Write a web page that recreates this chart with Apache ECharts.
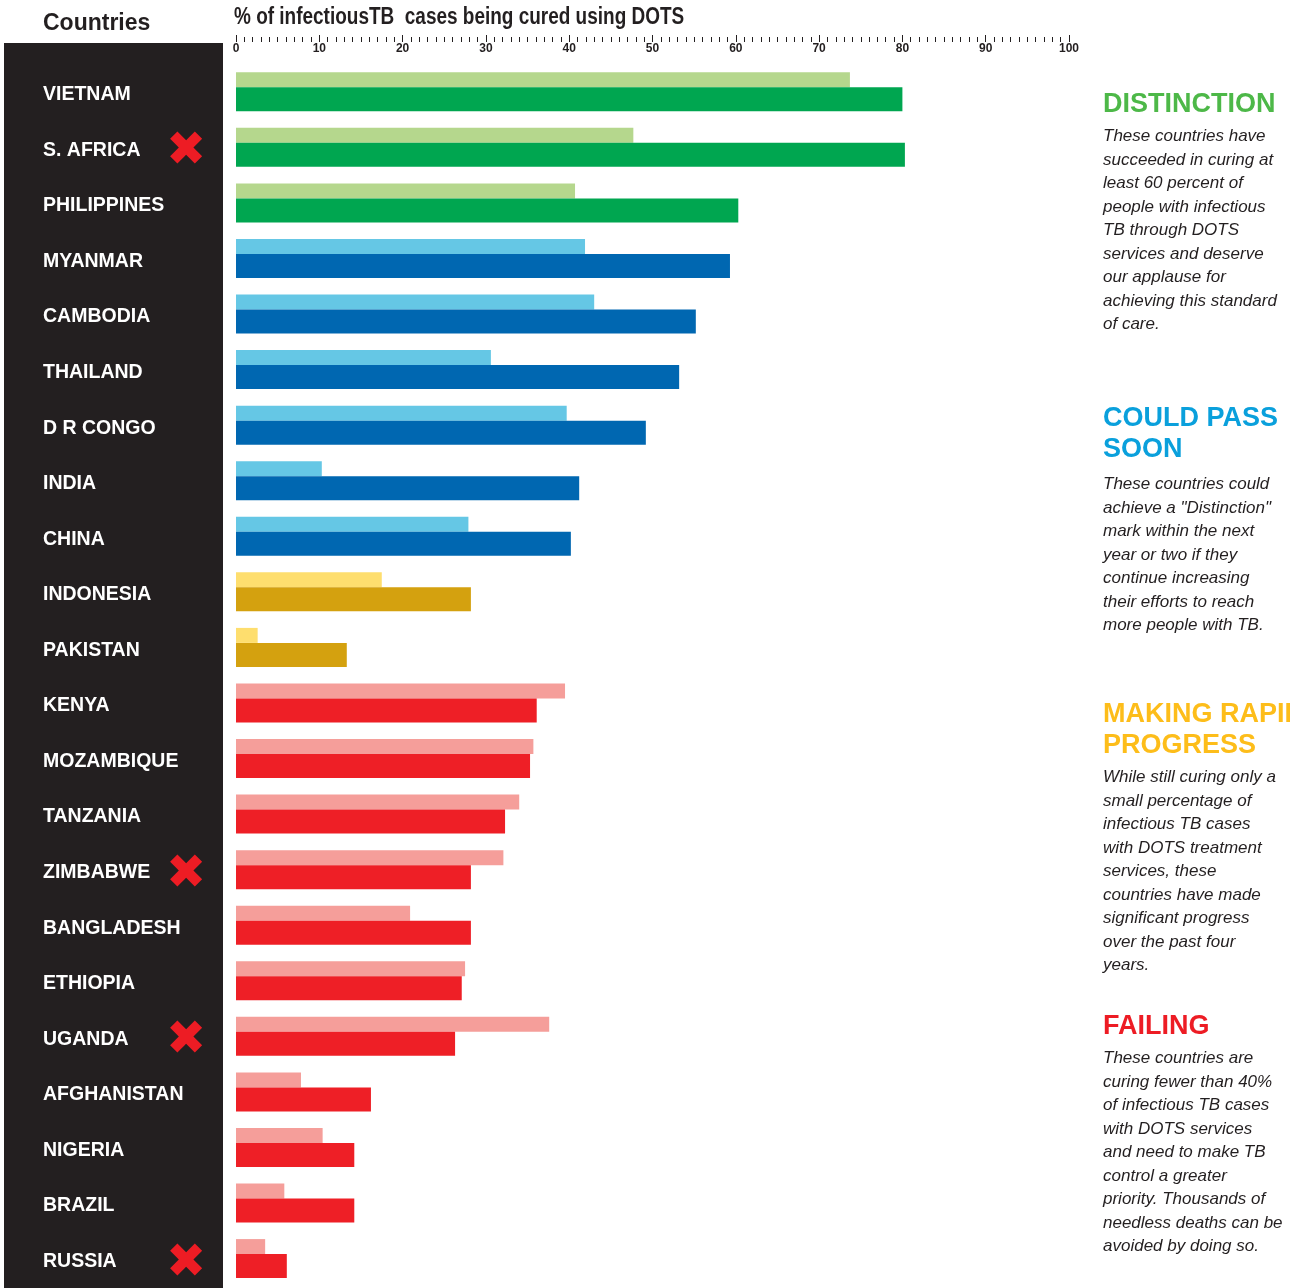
<!DOCTYPE html>
<html><head><meta charset="utf-8">
<script src="https://cdn.jsdelivr.net/npm/echarts/dist/echarts.min.js"></script>
<style>html,body{margin:0;padding:0;background:#fff}#c{width:1290px;height:1288px}</style>
</head><body><div id="c"></div>
<script>
const countries = ['VIETNAM','S. AFRICA','PHILIPPINES','MYANMAR','CAMBODIA','THAILAND','D R CONGO','INDIA','CHINA','INDONESIA','PAKISTAN','KENYA','MOZAMBIQUE','TANZANIA','ZIMBABWE','BANGLADESH','ETHIOPIA','UGANDA','AFGHANISTAN','NIGERIA','BRAZIL','RUSSIA'];
const groups = ['distinction','distinction','distinction','soon','soon','soon','soon','soon','soon','rapid','rapid','failing','failing','failing','failing','failing','failing','failing','failing','failing','failing','failing'];
const earlierPct = [73.7,47.7,40.7,41.9,43.0,30.6,39.7,10.3,27.9,17.5,2.6,39.5,35.7,34.0,32.1,20.9,27.5,37.6,7.8,10.4,5.8,3.5];
const latestPct  = [80.0,80.3,60.3,59.3,55.2,53.2,49.2,41.2,40.2,28.2,13.3,36.1,35.3,32.3,28.2,28.2,27.1,26.3,16.2,14.2,14.2,6.1];
const flagged = ['S. AFRICA','ZIMBABWE','UGANDA','RUSSIA'];
const axisTitle = '% of infectiousTB  cases being cured using DOTS';
const panels = [
  {key:'distinction', title:'DISTINCTION', body:['These countries have','succeeded in curing at','least 60 percent of','people with infectious','TB through DOTS','services and deserve','our applause for','achieving this standard','of care.']},
  {key:'soon', title:'COULD PASS\nSOON', body:['These countries could','achieve a "Distinction"','mark within the next','year or two if they','continue increasing','their efforts to reach','more people with TB.']},
  {key:'rapid', title:'MAKING RAPID\nPROGRESS', body:['While still curing only a','small percentage of','infectious TB cases','with DOTS treatment','services, these','countries have made','significant progress','over the past four','years.']},
  {key:'failing', title:'FAILING', body:['These countries are','curing fewer than 40%','of infectious TB cases','with DOTS services','and need to make TB','control a greater','priority. Thousands of','needless deaths can be','avoided by doing so.']}
];

const palette = {
  distinction:{light:'#b5d78d', dark:'#00a650', title:'#4db848'},
  soon:{light:'#65c7e5', dark:'#0067b1', title:'#0aa0dc'},
  rapid:{light:'#fede6e', dark:'#d4a10f', title:'#fdbd1a'},
  failing:{light:'#f59e9a', dark:'#ee1f26', title:'#ed1c24'}
};
const panelLayout = {
  distinction:{titleTop:89, bodyTop:125},
  soon:{titleTop:403, bodyTop:473},
  rapid:{titleTop:699, bodyTop:766},
  failing:{titleTop:1011, bodyTop:1047}
};

const chart = echarts.init(document.getElementById('c'), null, {renderer:'canvas'});
const graphics = [
  {type:'rect', z:-10, shape:{x:4, y:43, width:219, height:1245}, style:{fill:'#231f20'}},
  {type:'text', x:43, y:24, style:{text:'Countries', font:'bold 23px "Liberation Sans", Arial, sans-serif', fill:'#231f20', verticalAlign:'middle'}},
  {type:'text', x:234, y:18, scaleX:0.825, style:{text:axisTitle, font:'bold 23px "Liberation Sans", Arial, sans-serif', fill:'#231f20', verticalAlign:'middle'}}
];
panels.forEach(p => {
  const L = panelLayout[p.key];
  graphics.push({type:'text', x:1103, y:L.titleTop, style:{text:p.title, font:'bold 27px "Liberation Sans", Arial, sans-serif', lineHeight:31, fill:palette[p.key].title, verticalAlign:'top'}});
  graphics.push({type:'text', x:1103, y:L.bodyTop, style:{text:p.body.join('\n'), font:'italic 17px "Liberation Sans", Arial, sans-serif', lineHeight:23.5, fill:'#231f20', verticalAlign:'top'}});
});

chart.setOption({
  animation:false,
  grid:{left:236, top:64, width:833, height:1226},
  graphic:graphics,
  xAxis:{type:'value', position:'top', min:0, max:100, interval:10, offset:22,
    axisLine:{show:false}, splitLine:{show:false},
    axisTick:{show:true, length:7, lineStyle:{color:'#231f20', width:1}},
    minorTick:{show:true, splitNumber:10, length:5, lineStyle:{color:'#231f20', width:1}},
    axisLabel:{inside:true, margin:1, fontFamily:'"Liberation Sans", sans-serif', fontWeight:'bold', fontSize:12, color:'#231f20'}},
  yAxis:{type:'category', data:countries, inverse:true,
    axisLine:{show:false}, axisTick:{show:false},
    axisLabel:{align:'left', margin:193, padding:[6,0,0,0],
      formatter: v => flagged.includes(v) ? '{n|' + v + '}{x|✖}' : '{n|' + v + '}',
      rich:{
        n:{width:123, color:'#ffffff', fontFamily:'"Liberation Sans", sans-serif', fontWeight:'bold', fontSize:19.5, verticalAlign:'middle', lineHeight:44},
        x:{color:'#ed1c24', fontFamily:'"DejaVu Sans", sans-serif', fontSize:48, verticalAlign:'middle', lineHeight:44, padding:[5,0,0,0]}
      }}},
  series:[
    {type:'bar', name:'earlier', barWidth:15, barGap:'0%', silent:true,
      data: earlierPct.map((v,i) => ({value:v, itemStyle:{color:palette[groups[i]].light}}))},
    {type:'bar', name:'latest', barWidth:24, barGap:'0%', silent:true,
      data: latestPct.map((v,i) => ({value:v, itemStyle:{color:palette[groups[i]].dark}}))}
  ]
});
</script></body></html>
